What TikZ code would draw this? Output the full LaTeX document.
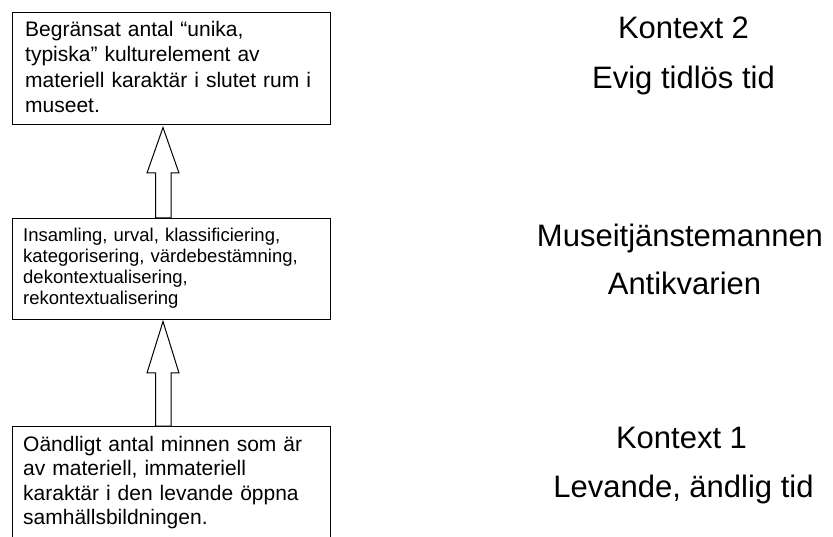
\documentclass[tikz,border=0pt]{standalone}
\usepackage{fontspec}
\setmainfont{Liberation Sans}
\begin{document}
\begin{tikzpicture}[x=1pt,y=-1pt,
  box/.style={draw, line width=1pt, inner sep=0pt, anchor=north west},
  boxtext/.style={anchor=base west, inner sep=0pt, align=left, text width=305pt, font=\fontsize{21}{25.3}\selectfont},
  lowtext/.style={boxtext, font=\fontsize{21}{24.5}\selectfont},
  smalltext/.style={boxtext, font=\fontsize{18.5}{20.8}\selectfont},
  sidetext/.style={anchor=base, inner sep=0pt, font=\fontsize{31}{37}\selectfont},
  blockarrow/.style={draw, line width=1pt, fill=white, line join=miter}]
\useasboundingbox (0,0) rectangle (833,537);
\clip (0,0) rectangle (833,537);

% boxes
\node[box, minimum width=318pt, minimum height=112pt] (b1) at (12,12) {};
\node[box, minimum width=318pt, minimum height=101pt] (b2) at (12,218) {};
\node[box, minimum width=318pt, minimum height=150pt] (b3) at (12,426) {};

% box texts
\node[boxtext] (t1) at (25,36.7) {Begränsat antal “unika,\\typiska” kulturelement av\\materiell karaktär i slutet rum i\\museet.};
\node[smalltext] (t2) at (23,241.7) {Insamling, urval, klassificiering,\\kategorisering, värdebestämning,\\dekontextualisering,\\rekontextualisering};
\node[lowtext] (t3) at (23,451) {Oändligt antal minnen som är\\av materiell, immateriell\\karaktär i den levande öppna\\samhällsbildningen.};

% block arrows
\draw[blockarrow] (163,127.5) -- (179,173) -- (171,173) -- (171,0 |- b2.north) -- (155.5,0 |- b2.north) -- (155.5,173) -- (147,173) -- cycle;
\draw[blockarrow] (163,321.5) -- (179,373) -- (171,373) -- (171,0 |- b3.north) -- (155.5,0 |- b3.north) -- (155.5,373) -- (147,373) -- cycle;

% side labels
\node[sidetext] (k2) at (683.5,38.3) {Kontext 2};
\node[sidetext] (k2b) at (683.5,88.5) {Evig tidlös tid};
\node[sidetext] (m1) at (680,247) {Museitjänstemannen};
\node[sidetext] (m2) at (684.5,295) {Antikvarien};
\node[sidetext] (k1) at (681.5,448) {Kontext 1};
\node[sidetext] (k1b) at (683.5,497) {Levande, ändlig tid};
\end{tikzpicture}
\end{document}
